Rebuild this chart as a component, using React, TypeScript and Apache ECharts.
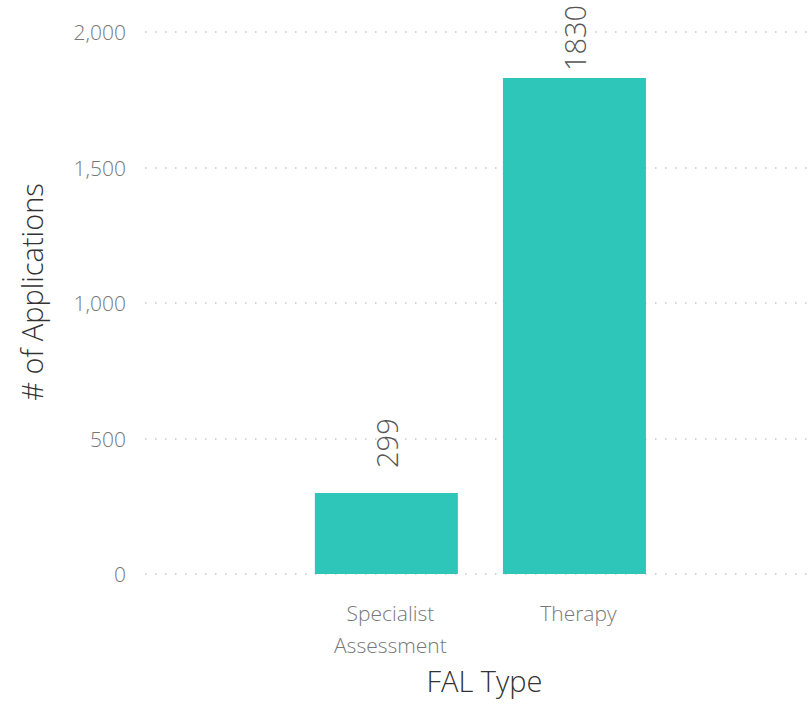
import React, { useEffect, useRef } from "react";
import * as echarts from "echarts";

const categories = ["Specialist\nAssessment", "Therapy"];
const values = [299, 1830];
const labelGaps = [25, 7];
const yTicks = [0, 500, 1000, 1500, 2000];

const FONT = "'Open Sans', 'Segoe UI', sans-serif";

export default function App() {
  const ref = useRef<HTMLDivElement>(null);
  useEffect(() => {
    if (!ref.current) return;
    const chart = echarts.init(ref.current, undefined, { renderer: "svg" });
    chart.setOption({
      animation: false,
      grid: { left: 145, right: 3, top: 32, bottom: 130, containLabel: false },
      xAxis: {
        type: "value",
        min: -1.2835,
        max: 2.242,
        name: "FAL Type",
        nameLocation: "middle",
        nameGap: 92,
        nameTextStyle: {
          fontFamily: FONT,
          fontWeight: 300,
          fontSize: 29,
          color: "#333",
          padding: [0, 0, 0, 16],
        },
        axisLine: { show: false },
        axisTick: { show: false },
        splitLine: { show: false },
        axisLabel: {
          customValues: categories.map((_, i) => i),
          formatter: (v: number) => categories[Math.round(v)] ?? "",
          fontFamily: FONT,
          fontWeight: 300,
          fontSize: 21,
          lineHeight: 32,
          color: "#777",
          margin: 23,
          padding: [0, 0, 0, 8],
        },
      },
      yAxis: {
        type: "value",
        min: yTicks[0],
        max: yTicks[yTicks.length - 1],
        interval: 500,
        name: "# of Applications",
        nameLocation: "middle",
        nameGap: 99,
        nameTextStyle: {
          fontFamily: FONT,
          fontWeight: 300,
          fontSize: 29,
          color: "#333",
          padding: [0, 0, 0, 22],
        },
        axisLine: { show: false },
        axisTick: { show: false },
        axisLabel: {
          formatter: (v: number) => v.toLocaleString("en-US"),
          fontFamily: FONT,
          fontWeight: 300,
          fontSize: 21,
          color: "#777",
          margin: 19,
        },
        splitLine: {
          show: true,
          lineStyle: { color: "#c8c8c8", width: 1.5, type: [1.5, 8.5] },
        },
      },
      series: [
        {
          type: "bar",
          barWidth: 143,
          itemStyle: { color: "#2dc6b9" },
          data: values.map((v, i) => ({
            value: [i, v],
            label: { distance: labelGaps[i] },
          })),
          label: {
            show: true,
            position: "top",
            rotate: 90,
            align: "left",
            verticalAlign: "middle",
            formatter: (p: any) => String(p.value[1]),
            fontFamily: FONT,
            fontWeight: 300,
            fontSize: 29,
            color: "#555",
          },
        },
      ],
    });
    return () => chart.dispose();
  }, []);
  return (
    <div
      ref={ref}
      style={{ position: "absolute", left: 0, top: 0, width: 811, height: 704, background: "#fff" }}
    />
  );
}
